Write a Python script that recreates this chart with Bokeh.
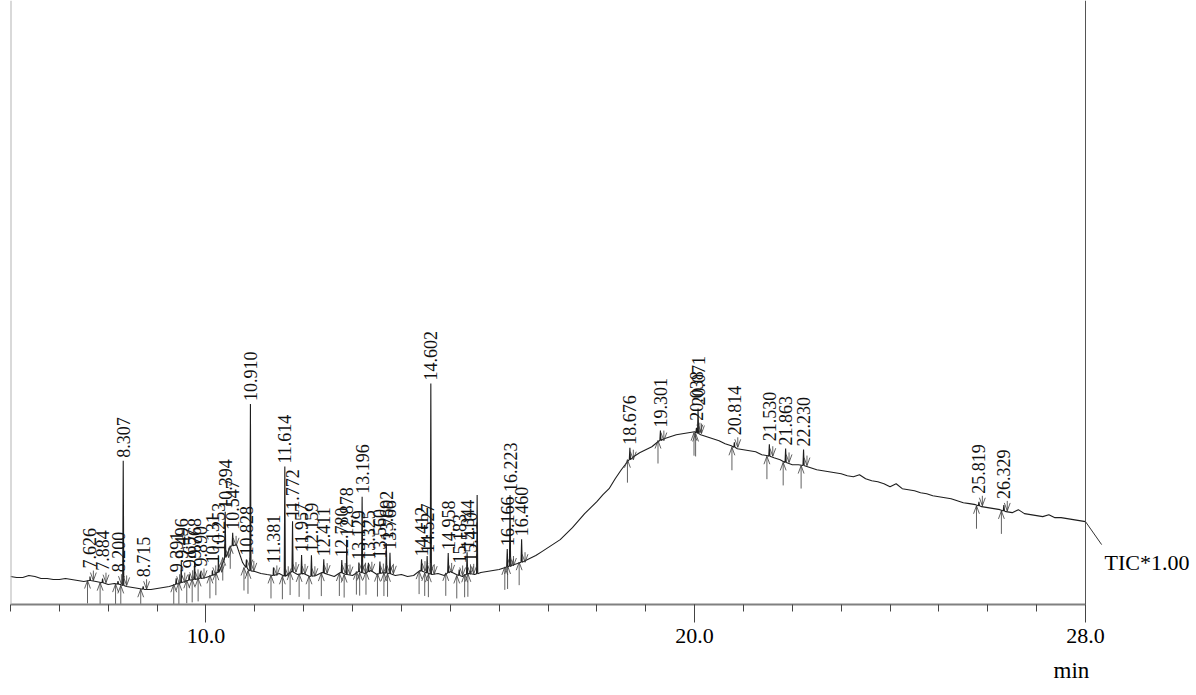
import numpy as np
from bokeh.plotting import figure
from bokeh.models import FixedTicker, Span, Label, Arrow, ColumnDataSource, Title
from bokeh.core.properties import value
from bokeh.embed import file_html
from bokeh.resources import INLINE

# ---------------- data ----------------
# baseline of the TIC trace, sampled every 0.125 min from 6.0 to 28.0 (arbitrary intensity units)
base_t = np.round(np.arange(6.0, 28.0001, 0.125), 3)
base_i = [
    28, 27, 27, 29, 28, 26, 26, 25,          # 6
    25, 26, 25, 24, 23, 24, 23, 22,          # 7
    20, 21, 20, 18, 17, 16, 15, 15,          # 8
    16, 17, 18, 20, 22, 24, 25, 26,          # 9
    27, 29, 32, 45, 58, 60, 42, 34,          # 10
    33, 31, 30, 29, 31, 28, 33, 30,          # 11
    31, 28, 29, 32, 30, 28, 32, 30,          # 12
    29, 33, 31, 34, 30, 32, 31, 29,          # 13
    30, 28, 29, 34, 32, 30, 31, 29,          # 14
    33, 30, 28, 31, 30, 32, 33, 34,          # 15
    35, 37, 39, 41, 43, 46, 49, 53,          # 16
    57, 61, 65, 71, 77, 84, 91, 97,          # 17
    103, 110, 116, 126, 135, 143, 148, 152,  # 18
    155, 158, 163, 166, 168, 170, 171, 172,  # 19
    173, 170, 168, 166, 164, 161, 159, 156,  # 20
    155, 154, 153, 150, 149, 147, 145, 142,  # 21
    140, 140, 139, 137, 135, 134, 133, 132,  # 22
    131, 129, 128, 130, 126, 124, 123, 121,  # 23
    118, 121, 116, 115, 114, 112, 111, 109,  # 24
    108, 107, 106, 104, 102, 101, 100, 98,   # 25
    97, 96, 95, 93, 92, 95, 91, 90,          # 26
    89, 88, 90, 87, 87, 86, 85, 84,          # 27
    83,                                      # 28
]

# labelled peaks: retention time (min) and height above the baseline
peak_times = [7.626, 7.884, 8.200, 8.307, 8.715, 9.391, 9.496, 9.657, 9.768, 9.890,
              10.131, 10.253, 10.394, 10.547, 10.828, 10.910, 11.381, 11.614, 11.772, 11.957,
              12.159, 12.411, 12.780, 12.878, 13.129, 13.196, 13.325, 13.560, 13.692, 13.766,
              14.412, 14.527, 14.602, 14.958, 15.183, 15.344, 15.410, 16.166, 16.223, 16.460,
              18.676, 19.301, 20.038, 20.071, 20.814, 21.530, 21.863, 22.230, 25.819, 26.329]
peak_heights = [4, 4, 3, 125, 3, 6, 21, 6, 18, 7,
                5, 17, 46, 13, 8, 167, 8, 110, 51, 19,
                21, 14, 13, 35, 9, 76, 9, 12, 30, 21,
                12, 17, 191, 20, 6, 22, 3, 18, 71, 23,
                12, 10, 5, 25, 5, 12, 14, 16, 4, 6]
peak_labels = ["%.3f" % t for t in peak_times]

# unlabelled peaks
extra_times = [15.550]
extra_heights = [79]

tick_values = [10, 20, 28]
tick_labels = ["10.0", "20.0", "28.0"]
minor_tick_values = list(range(6, 29))
t_start, t_end = 6.0, 28.0
trace_name = "TIC*1.00"
x_unit = "min"

# ---------------- build geometry ----------------
bt = np.asarray(base_t, dtype=float)
bi = np.asarray(base_i, dtype=float)

all_t = list(peak_times) + list(extra_times)
all_h = list(peak_heights) + list(extra_heights)
tx, ty = list(bt), list(bi)
dw = 0.012
for t, h in zip(all_t, all_h):
    b = float(np.interp(t, bt, bi))
    tx += [t - dw, t, t + dw]
    ty += [b, b + h, b]
order = np.argsort(np.asarray(tx), kind="mergesort")
trace_x = np.asarray(tx)[order]
trace_y = np.asarray(ty)[order]

pb = np.interp(peak_times, bt, bi)
label_y = [b + max(h, 9) + 3 for b, h in zip(pb, peak_heights)]

xs, ys = [], []
dx = 0.06
for t, b in zip(peak_times, pb):
    xu = t - 0.05
    xd = t + 0.07
    xs += [[xu, xu], [xu - dx, xu, xu + dx], [xd - dx, xd, xd + dx], [xd, xd]]
    ys += [[b - 23, b], [b - 8, b, b - 8], [b + 8, b, b + 8], [b, b + 10]]

# ---------------- figure ----------------
W, H = 1192, 692
left, plot_px, frame_h = 10, 1075, 605
px_per_min = plot_px / (t_end - t_start)
x_hi = t_start + (W - left) / px_per_min

p = figure(width=W, height=H, x_range=(t_start, x_hi), y_range=(0, frame_h),
           output_backend="svg", toolbar_location=None,
           min_border_left=left, min_border_right=0, min_border_top=0,
           min_border_bottom=H - frame_h,
           y_axis_location=None, x_axis_location="below")
p.outline_line_color = None
p.xgrid.visible = False
p.ygrid.visible = False
p.background_fill_color = "white"
p.border_fill_color = "white"

p.line(trace_x, trace_y, line_color="#1e1e1e", line_width=1.1)
p.multi_line(xs, ys, line_color="#3a3a3a", line_width=0.8)

src = ColumnDataSource(dict(x=peak_times, y=label_y, text=peak_labels))
p.text(x="x", y="y", text="text", source=src, angle=np.pi / 2,
       text_align="left", text_baseline="middle",
       text_font=value("Liberation Serif"), text_font_size="18px", text_color="#111111")

p.add_layout(Span(location=t_start, dimension="height", line_color="#b4b4b4", line_width=2))
p.add_layout(Span(location=t_end, dimension="height", line_color="#555555", line_width=1))

ax = p.xaxis[0]
ax.bounds = (t_start, t_end)
ax.ticker = FixedTicker(ticks=tick_values, minor_ticks=minor_tick_values)
ax.major_label_overrides = {v: s for v, s in zip(tick_values, tick_labels)}
ax.axis_line_color = "#808080"
ax.axis_line_width = 2
ax.major_tick_line_color = "#444444"
ax.minor_tick_line_color = "#444444"
ax.major_tick_out = 18
ax.major_tick_in = 0
ax.minor_tick_out = 7
ax.minor_tick_in = 0
ax.major_label_standoff = 6
ax.major_label_text_font = "Liberation Serif"
ax.major_label_text_font_size = "22px"
ax.major_label_text_color = "#000000"

p.add_layout(Arrow(end=None, x_start=t_end, y_start=83, x_end=t_end + 0.33, y_end=60,
                   line_color="#333333", line_width=1))
p.add_layout(Label(x=t_end + 0.39, y=42, text=trace_name, text_font="Liberation Serif",
                   text_font_size="22px", text_baseline="alphabetic", text_align="left",
                   text_color="#000000"))
p.add_layout(Title(text=x_unit, align="left", offset=1053 - left, standoff=20,
                   text_font="Liberation Serif", text_font_size="23px",
                   text_font_style="normal", text_color="#000000"), "below")

open("out.html", "w").write(file_html(p, INLINE))
